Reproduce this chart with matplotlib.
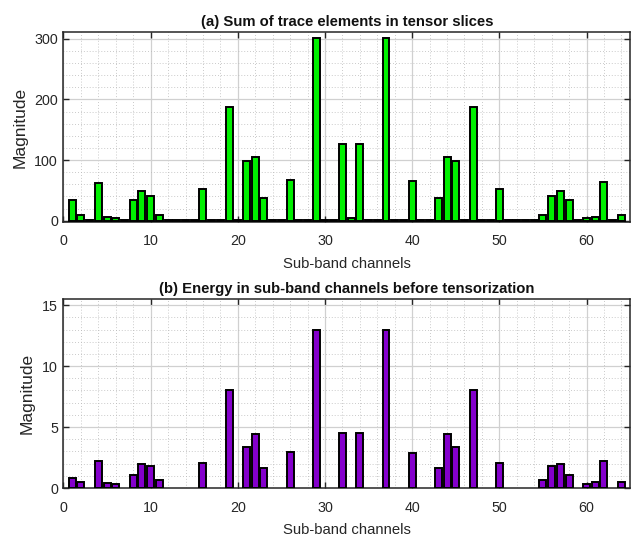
import matplotlib
matplotlib.use("Agg")
import matplotlib.pyplot as plt
import numpy as np
from matplotlib.ticker import MultipleLocator

plt.rcParams['font.family'] = ['Liberation Sans', 'DejaVu Sans']

channels = list(range(1, 65))

trace_sum = [34, 10, 1.5, 63, 6, 5, 1.5, 34, 49, 40, 10, 1.5, 1.5, 1.5, 1.5, 52,
             1.5, 1.5, 188, 1.5, 98, 105, 37, 1.5, 1.5, 67, 1.5, 1.5, 301, 1.5, 1.5, 126,
             4, 126, 1.5, 1.5, 301, 1.5, 1.5, 66, 1.5, 1.5, 37, 105, 99, 1.5, 188, 1.5,
             1.5, 52, 1.5, 1.5, 1.5, 1.5, 10, 40, 49, 34, 1.5, 5, 7, 64, 1.5, 10]

energy = [0.8, 0.5, 0, 2.25, 0.45, 0.37, 0, 1.1, 1.93, 1.83, 0.66, 0, 0, 0, 0, 2.09,
          0, 0, 8.0, 0, 3.39, 4.39, 1.67, 0, 0, 2.96, 0, 0, 13.0, 0, 0, 4.55,
          0, 4.55, 0, 0, 13.0, 0, 0, 2.9, 0, 0, 1.64, 4.39, 3.39, 0, 8.0, 0,
          0, 2.09, 0, 0, 0, 0, 0.63, 1.83, 1.93, 1.1, 0, 0.37, 0.5, 2.25, 0, 0.5]

xticks = [0, 10, 20, 30, 40, 50, 60]
title_a = "(a) Sum of trace elements in tensor slices"
title_b = "(b) Energy in sub-band channels before tensorization"
xlabel = "Sub-band channels"
ylabel = "Magnitude"

txt = '#262626'
fig = plt.figure(figsize=(6.41, 5.38), dpi=100)
ax1 = fig.add_axes([0.099, 0.5874, 0.884, 0.3531])
ax2 = fig.add_axes([0.099, 0.0929, 0.884, 0.3513])


def style(ax, ymaj, ymin):
    ax.set_xlim(0, 65)
    ax.set_xticks(xticks)
    ax.xaxis.set_minor_locator(MultipleLocator(2))
    ax.yaxis.set_major_locator(MultipleLocator(ymaj))
    ax.yaxis.set_minor_locator(MultipleLocator(ymin))
    ax.grid(True, which='major', color='#d0d0d0', lw=0.9, ls='-')
    ax.grid(True, which='minor', color='#b8b8b8', lw=0.6, ls=(0, (1, 2.5)))
    ax.set_axisbelow(True)
    ax.tick_params(which='major', direction='in', length=4, width=1.0,
                   top=True, right=True, labelsize=10.3, colors=txt)
    ax.tick_params(axis='x', which='major', pad=9)
    ax.tick_params(axis='y', which='major', pad=4)
    ax.tick_params(which='minor', length=0)
    for s in ax.spines.values():
        s.set_color('#262626')
        s.set_linewidth(1.1)
    ax.set_xlabel(xlabel, fontsize=10.7, color=txt, labelpad=6)
    ax.set_ylabel(ylabel, fontsize=12.5, color=txt, labelpad=5)


ch = np.array(channels)
ts = np.array(trace_sum)
ax1.bar(ch, ts, width=0.8, color='#00f000', edgecolor='black', linewidth=1.4, zorder=3)
style(ax1, 100, 20)
ax1.set_ylim(-2, 311)
ax1.set_yticks([0, 100, 200, 300])
ax1.set_title(title_a, fontsize=10.7, fontweight='bold', color='#111111', pad=4)

en = np.array(energy)
m = en > 0
ax2.bar(ch[m], en[m], width=0.8, color='#8400cc', edgecolor='black', linewidth=1.4, zorder=3)
style(ax2, 5, 1)
ax2.set_ylim(0, 15.5)
ax2.set_title(title_b, fontsize=10.7, fontweight='bold', color='#111111', pad=4)

fig.savefig('out.png', dpi=100)
